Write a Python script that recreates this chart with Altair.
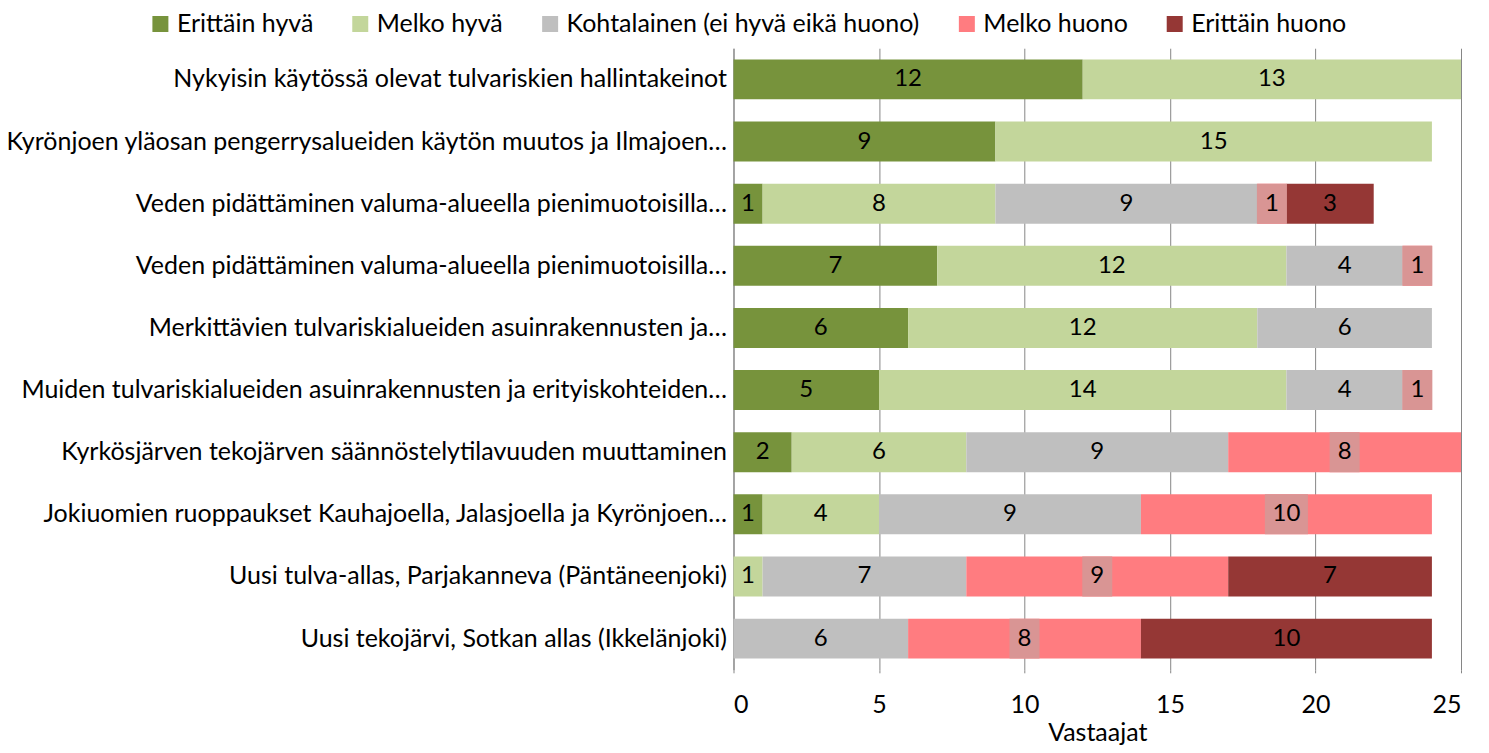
import json
import altair as alt
import pandas as pd

categories = [
    "Nykyisin käytössä olevat tulvariskien hallintakeinot",
    "Kyrönjoen yläosan pengerrysalueiden käytön muutos ja Ilmajoen…",
    "Veden pidättäminen valuma-alueella pienimuotoisilla…",
    "Veden pidättäminen valuma-alueella pienimuotoisilla…",
    "Merkittävien tulvariskialueiden asuinrakennusten ja…",
    "Muiden tulvariskialueiden asuinrakennusten ja erityiskohteiden…",
    "Kyrkösjärven tekojärven säännöstelytilavuuden muuttaminen",
    "Jokiuomien ruoppaukset Kauhajoella, Jalasjoella ja Kyrönjoen…",
    "Uusi tulva-allas, Parjakanneva (Päntäneenjoki)",
    "Uusi tekojärvi, Sotkan allas (Ikkelänjoki)",
]
series = ["Erittäin hyvä", "Melko hyvä", "Kohtalainen (ei hyvä eikä huono)", "Melko huono", "Erittäin huono"]
colors = ["#77933C", "#C3D69B", "#BFBFBF", "#FF7C80", "#953735"]

erittain_hyva = [12, 9, 1, 7, 6, 5, 2, 1, 0, 0]
melko_hyva = [13, 15, 8, 12, 12, 14, 6, 4, 1, 0]
kohtalainen = [0, 0, 9, 4, 6, 4, 9, 9, 7, 6]
melko_huono = [0, 0, 1, 1, 0, 1, 8, 10, 9, 8]
erittain_huono = [0, 0, 3, 0, 0, 0, 0, 0, 7, 10]

values = [erittain_hyva, melko_hyva, kohtalainen, melko_huono, erittain_huono]
rows = []
for si, (s, vals) in enumerate(zip(series, values)):
    for ri, v in enumerate(vals):
        if v > 0:
            rows.append({"row": ri, "series": s, "sidx": si, "value": v})
df = pd.DataFrame(rows)

FONT = "Lato"
FS = 25
label_expr = json.dumps(categories, ensure_ascii=False) + "[datum.value]"

base = alt.Chart(df).transform_stack(
    stack="value", groupby=["row"], as_=["x0", "x1"], sort=[alt.SortField("sidx", order="ascending")]
).transform_calculate(
    mid="(datum.x0 + datum.x1) / 2",
    hw="datum.value < 10 ? 0.515 : 0.74",
)

yenc = alt.Y(
    "row:O",
    scale=alt.Scale(paddingInner=0.357, paddingOuter=0.18),
    axis=alt.Axis(
        title=None, labelExpr=label_expr, labelLimit=900, labelFontSize=FS, labelFont=FONT,
        labelColor="#000000", labelPadding=7, ticks=False, domain=True, domainColor="#868686",
        domainWidth=1,
    ),
)

bars = base.mark_bar(size=40).encode(
    y=yenc,
    x=alt.X(
        "x0:Q",
        scale=alt.Scale(domain=[0, 25], nice=False),
        axis=alt.Axis(
            title="Vastaajat", values=[0, 5, 10, 15, 20, 25], grid=True, gridColor="#868686",
            gridWidth=1, domain=False, ticks=True, tickColor="#868686", tickSize=3,
            labelFontSize=FS, labelFont=FONT, labelColor="#000000", labelPadding=20,
            titleFontSize=FS, titleFont=FONT, titleFontWeight="normal", titleColor="#000000",
            titlePadding=3,
        ),
    ),
    x2="x1:Q",
    color=alt.Color(
        "series:N",
        scale=alt.Scale(domain=series, range=colors),
        legend=alt.Legend(
            title=None, orient="none", direction="horizontal", legendX=-586, legendY=-37,
            symbolType="square", symbolSize=256, symbolStrokeWidth=0, labelFontSize=FS,
            labelFont=FONT, labelColor="#000000", columnPadding=34, labelOffset=4, padding=0,
            labelLimit=500,
        ),
    ),
    order=alt.Order("sidx:Q"),
)

label_bg = base.transform_filter("datum.sidx == 3").mark_rect(color="#D99594", height=40).encode(
    y=alt.Y("row:O"),
    x=alt.X("xa:Q"),
    x2="xb:Q",
).transform_calculate(xa="datum.mid - datum.hw", xb="datum.mid + datum.hw")

texts = base.mark_text(fontSize=24, font=FONT, color="#000000", baseline="middle", align="center").encode(
    y=alt.Y("row:O"),
    x=alt.X("mid:Q"),
    text=alt.Text("value:Q"),
)

chart = alt.layer(bars, label_bg, texts).properties(
    width=728,
    height=622,
    autosize=alt.AutoSizeParams(type="none"),
    padding={"left": 726, "top": 40, "right": 20, "bottom": 75},
).configure_view(stroke=None).configure_axis(grid=False)

chart.save("out.html", embed_options={"renderer": "svg", "actions": False})
